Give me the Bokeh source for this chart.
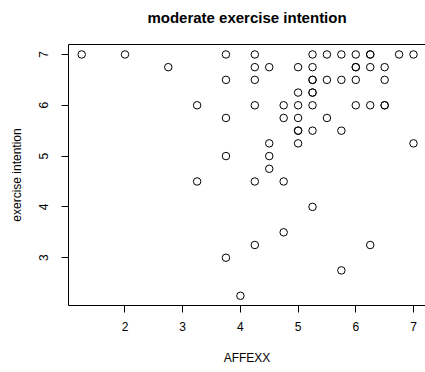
from bokeh.plotting import figure
from bokeh.models import LinearAxis, Range1d, FixedTicker, ColumnDataSource
from bokeh.embed import file_html
from bokeh.resources import INLINE

# AFFEXX (x) and exercise intention (y), one entry per respondent
affexx = [1.25, 2, 3.75, 4.25, 5.25, 5.5, 5.75, 6, 6.25, 6.25, 6.75, 7,
          2.75, 4.25, 4.5, 5, 5.25, 6, 6, 6.25, 6.5,
          3.75, 4.25, 5.25, 5.25, 5.5, 5.75, 6, 6.5,
          5, 5.25, 5.25,
          3.25, 4.25, 4.75, 5, 5.25, 6, 6.25, 6.5, 6.5,
          3.75, 4.75, 5, 5.5,
          5, 5, 5.25, 5.75,
          4.5, 5, 7,
          3.75, 4.5,
          4.5,
          3.25, 4.25, 4.75,
          5.25,
          4.75,
          4.25, 6.25,
          3.75,
          5.75,
          4]
intention = [7, 7, 7, 7, 7, 7, 7, 7, 7, 7, 7, 7,
             6.75, 6.75, 6.75, 6.75, 6.75, 6.75, 6.75, 6.75, 6.75,
             6.5, 6.5, 6.5, 6.5, 6.5, 6.5, 6.5, 6.5,
             6.25, 6.25, 6.25,
             6, 6, 6, 6, 6, 6, 6, 6, 6,
             5.75, 5.75, 5.75, 5.75,
             5.5, 5.5, 5.5, 5.5,
             5.25, 5.25, 5.25,
             5, 5,
             4.75,
             4.5, 4.5, 4.5,
             4,
             3.5,
             3.25, 3.25,
             3,
             2.75,
             2.25]

x_ticks = [2, 3, 4, 5, 6, 7]
y_ticks = [3, 4, 5, 6, 7]

FONT = "Liberation Sans"

p = figure(width=425, height=372, output_backend="svg", toolbar_location=None,
           x_range=Range1d(1.021, 7.208), y_range=Range1d(2.059, 7.196),
           title="moderate exercise intention",
           x_axis_label="AFFEXX", y_axis_label="exercise intention",
           min_border_left=68, min_border_right=0, min_border_top=43,
           min_border_bottom=67)

p.outline_line_color = None
p.xgrid.grid_line_color = None
p.ygrid.grid_line_color = None
p.background_fill_color = "white"
p.border_fill_color = "white"

p.title.text_font = FONT
p.title.text_font_size = "15px"
p.title.text_font_style = "bold"
p.title.text_color = "black"
p.title.align = "center"
p.title.standoff = 13

p.xaxis.ticker = FixedTicker(ticks=x_ticks)
p.yaxis.ticker = FixedTicker(ticks=y_ticks)
for ax in p.xaxis + p.yaxis:
    ax.axis_line_color = "black"
    ax.axis_line_width = 1
    ax.major_tick_line_color = "black"
    ax.major_tick_out = 7
    ax.major_tick_in = 0
    ax.minor_tick_line_color = None
    ax.major_label_text_font = FONT
    ax.major_label_text_font_size = "12px"
    ax.major_label_text_color = "black"
    ax.axis_label_text_font = FONT
    ax.axis_label_text_font_size = "12px"
    ax.axis_label_text_font_style = "normal"
    ax.axis_label_text_color = "black"

p.xaxis.major_label_standoff = 9
p.xaxis.axis_label_standoff = 17
p.yaxis.major_label_orientation = "vertical"
p.yaxis.major_label_standoff = 13
p.yaxis.axis_label_standoff = 13

# top border of the box; invisible ticks reserve room below the title
top = LinearAxis(ticker=FixedTicker(ticks=x_ticks), axis_line_color="black",
                 major_tick_out=12, major_tick_in=0, major_tick_line_color="black",
                 major_tick_line_alpha=0, minor_tick_line_color=None,
                 major_label_overrides={t: "" for t in x_ticks},
                 major_label_standoff=0, major_label_text_font_size="1px")
p.add_layout(top, "above")

src = ColumnDataSource(dict(x=affexx, y=intention))
p.scatter(x="x", y="y", source=src, marker="circle", size=7.5,
          fill_color=None, line_color="black", line_width=1)

open("out.html", "w").write(file_html(p, INLINE))
